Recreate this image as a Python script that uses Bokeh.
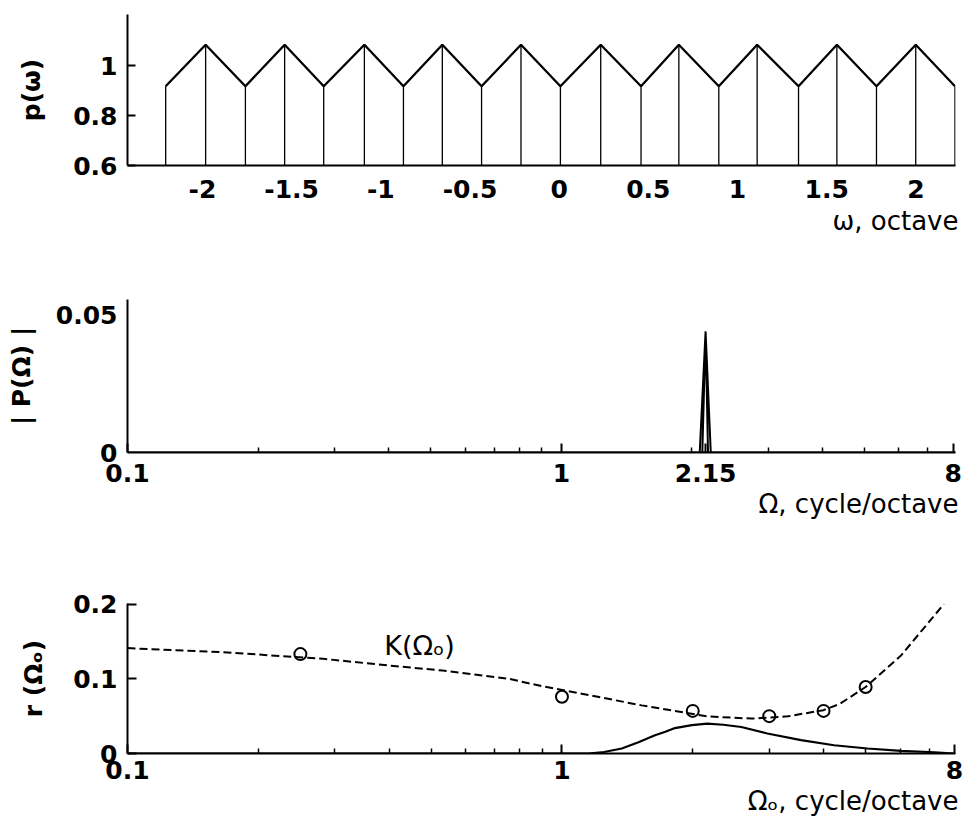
from bokeh.plotting import figure
from bokeh.layouts import column
from bokeh.models import Range1d, FixedTicker, CustomJSTickFormatter, Label, Title
from bokeh.embed import file_html
from bokeh.resources import INLINE

# ---------------- data: top panel p(omega) ----------------
omega = [-2.206, -1.982, -1.759, -1.539, -1.320, -1.092, -0.873, -0.655, -0.435, -0.214,
         0.007, 0.233, 0.459, 0.671, 0.895, 1.110, 1.342, 1.557, 1.779, 1.999, 2.219]
p_omega = [0.917, 1.083, 0.917, 1.083, 0.917, 1.083, 0.917, 1.083, 0.917, 1.083,
           0.917, 1.083, 0.917, 1.083, 0.917, 1.083, 0.917, 1.083, 0.917, 1.083, 0.917]
omega_ticks = [-2, -1.5, -1, -0.5, 0, 0.5, 1, 1.5, 2]
p_ticks = [0.6, 0.8, 1]

# ---------------- data: middle panel |P(Omega)| ----------------
Omega = [0.1, 2.084, 2.15, 2.178, 2.113, 2.15, 2.21, 8.1]
P_mag = [0, 0, 0.044, 0, 0, 0.044, 0, 0]
Omega_ticks = [0.1, 1, 2.15, 8]
Omega_minor = [0.2, 0.3, 0.4, 0.5, 0.6, 0.7, 0.8, 0.9, 2, 3, 4, 5, 6, 7]
P_ticks = [0, 0.05]

# ---------------- data: bottom panel r(Omega_o), K(Omega_o) ----------------
K_x = [0.1, 0.166, 0.282, 0.40, 0.531, 0.755, 0.9, 1.11, 1.526, 2.16, 2.729, 3.31, 4.0, 4.37,
       5.0, 6.03, 7.57]
K_y = [0.141, 0.1355, 0.1267, 0.1177, 0.111, 0.100, 0.090, 0.080, 0.0644, 0.0497, 0.0467,
       0.0497, 0.058, 0.0667, 0.089, 0.131, 0.200]
Km_x = [0.25, 1, 2, 3, 4, 5]
Km_y = [0.133, 0.076, 0.057, 0.050, 0.057, 0.089]
r_x = [0.1, 1.15, 1.25, 1.373, 1.5, 1.637, 1.73, 1.82, 1.99, 2.16, 2.35, 2.587, 2.97, 3.55,
       4.23, 5.05, 6.03, 7.2, 8.0]
r_y = [0, 0, 0.002, 0.0067, 0.015, 0.0244, 0.029, 0.034, 0.038, 0.040, 0.0385, 0.0355,
       0.0267, 0.0178, 0.011, 0.0067, 0.0035, 0.0017, 0.0]
Omega_o_ticks = [0.1, 1, 8]
r_ticks = [0, 0.1, 0.2]

FMT = CustomJSTickFormatter(code="return String(Math.round(tick*1000)/1000)")
TICK_FONT = "DejaVu Sans"


def style(p, ylab, ylab_standoff, xtick_standoff):
    p.outline_line_color = None
    p.xgrid.grid_line_color = None
    p.ygrid.grid_line_color = None
    p.background_fill_color = "white"
    p.border_fill_color = "white"
    for ax in (p.xaxis[0], p.yaxis[0]):
        ax.axis_line_width = 2
        ax.axis_line_color = "black"
        ax.major_tick_line_width = 2
        ax.minor_tick_line_width = 1.5
        ax.major_tick_line_color = "black"
        ax.minor_tick_line_color = "black"
        ax.major_tick_out = 0
        ax.minor_tick_out = 0
        ax.major_label_text_font = TICK_FONT
        ax.major_label_text_font_style = "bold"
        ax.major_label_text_font_size = "25px"
        ax.major_label_text_color = "black"
        ax.formatter = FMT
    p.xaxis[0].major_label_standoff = xtick_standoff
    ya = p.yaxis[0]
    ya.axis_label = ylab
    ya.axis_label_text_font = "DejaVu Sans"
    ya.axis_label_text_font_style = "bold"
    ya.axis_label_text_font_size = "25px"
    ya.axis_label_text_color = "black"
    ya.axis_label_standoff = ylab_standoff
    ya.major_label_standoff = 10


def x_title(p, text, standoff, offset):
    p.add_layout(Title(text=text, align="right", offset=offset, standoff=standoff,
                       text_font="DejaVu Sans", text_font_size="26px",
                       text_font_style="normal", text_color="black"), "below")


# ---------------- top ----------------
p1 = figure(width=963, height=278, x_range=Range1d(-2.42, 2.222), y_range=Range1d(0.6, 1.204),
            output_backend="svg", toolbar_location=None,
            min_border_left=127, min_border_right=5, min_border_top=14, min_border_bottom=113)
p1.segment(x0=omega, y0=0.6, x1=omega, y1=p_omega, line_color="black", line_width=1.3)
p1.line(omega, p_omega, line_color="black", line_width=2.3)
style(p1, "p(ω)", 24, 14)
p1.xaxis[0].ticker = FixedTicker(ticks=omega_ticks)
p1.xaxis[0].major_tick_in = 0
p1.yaxis[0].ticker = FixedTicker(ticks=p_ticks)
p1.yaxis[0].major_tick_in = 8
x_title(p1, "ω, octave", 6, -3)

# ---------------- middle ----------------
p2 = figure(width=963, height=270, x_axis_type="log", x_range=Range1d(0.1, 8.1),
            y_range=Range1d(0, 0.0556), output_backend="svg", toolbar_location=None,
            min_border_left=127, min_border_right=5, min_border_top=21, min_border_bottom=96)
p2.line(Omega, P_mag, line_color="black", line_width=2)
style(p2, "| P(Ω) |", 17, 11)
p2.xaxis[0].ticker = FixedTicker(ticks=Omega_ticks, minor_ticks=Omega_minor)
p2.xaxis[0].major_tick_in = 9
p2.xaxis[0].minor_tick_in = 5
p2.yaxis[0].ticker = FixedTicker(ticks=P_ticks)
p2.yaxis[0].major_tick_in = 0
x_title(p2, "Ω, cycle/octave", 4, -3)

# ---------------- bottom ----------------
p3 = figure(width=963, height=276, x_axis_type="log", x_range=Range1d(0.1, 8.05),
            y_range=Range1d(0, 0.2007), output_backend="svg", toolbar_location=None,
            min_border_left=124, min_border_right=8, min_border_top=55, min_border_bottom=71)
p3.line(r_x, r_y, line_color="black", line_width=2.2)
p3.line(K_x, K_y, line_color="black", line_width=2, line_dash="8 4")
p3.scatter(Km_x, Km_y, marker="circle", size=12, fill_color=None, line_color="black", line_width=2)
p3.add_layout(Label(x=0.39, y=0.144, text="K(Ωₒ)", text_font="DejaVu Sans",
                    text_font_size="27px", text_baseline="alphabetic", text_align="left",
                    text_color="black"))
style(p3, "r (Ωₒ)", 22, 7)
p3.xaxis[0].ticker = FixedTicker(ticks=Omega_o_ticks, minor_ticks=Omega_minor)
p3.xaxis[0].major_tick_in = 9
p3.xaxis[0].minor_tick_in = 5
p3.yaxis[0].ticker = FixedTicker(ticks=r_ticks)
p3.yaxis[0].major_tick_in = 9
x_title(p3, "Ωₒ, cycle/octave", 4, -3)

layout = column(p1, p2, p3)
open("out.html", "w").write(file_html(layout, INLINE))
